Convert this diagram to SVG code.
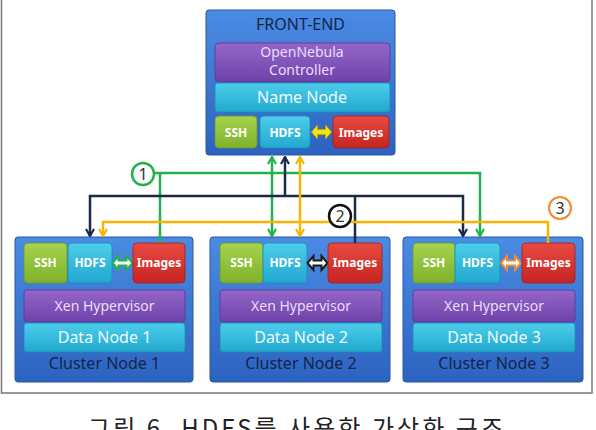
<svg xmlns="http://www.w3.org/2000/svg" width="596" height="430" viewBox="0 0 596 430">
<style>
.blue{fill:url(#gBlue);stroke:#2856a8;stroke-width:1}
.pur{fill:url(#gPur);stroke:#5e3596;stroke-width:0.8}
.cyan{fill:url(#gCyan);stroke:#1b8fb4;stroke-width:0.8}
.grn{fill:url(#gGrn);stroke:#6c9a22;stroke-width:0.8}
.red{fill:url(#gRed);stroke:#a81d1a;stroke-width:0.8}
text{font-family:"Noto Sans","Open Sans","DejaVu Sans",sans-serif;text-anchor:middle}
.dark{fill:#14254a;font-size:16px}
.lav{fill:#eadcfa;font-size:14px}
.wt{fill:#effbff;font-size:16px}
.b{fill:#ffffff;font-size:12px;font-weight:bold}
.ln{fill:none;stroke-width:2.5}
.g{stroke:#22b24c}
.n{stroke:#1b2a48}
.y{stroke:#f7b500}
.num{font-size:16px;fill:#333}
</style>
<defs>
<linearGradient id="gBlue" x1="0" y1="0" x2="0" y2="1"><stop offset="0" stop-color="#4b8be4"/><stop offset="1" stop-color="#2d63c0"/></linearGradient>
<linearGradient id="gPur" x1="0" y1="0" x2="0" y2="1"><stop offset="0" stop-color="#9466c8"/><stop offset="1" stop-color="#6e42aa"/></linearGradient>
<linearGradient id="gCyan" x1="0" y1="0" x2="0" y2="1"><stop offset="0" stop-color="#4ccdea"/><stop offset="1" stop-color="#22a8cf"/></linearGradient>
<linearGradient id="gGrn" x1="0" y1="0" x2="0" y2="1"><stop offset="0" stop-color="#a6d24c"/><stop offset="1" stop-color="#7fb22e"/></linearGradient>
<linearGradient id="gRed" x1="0" y1="0" x2="0" y2="1"><stop offset="0" stop-color="#e84940"/><stop offset="1" stop-color="#c62622"/></linearGradient>
<marker id="mG" viewBox="0 0 10 10" refX="9" refY="5" markerWidth="10" markerHeight="10" markerUnits="userSpaceOnUse" orient="auto-start-reverse"><path d="M2,1 L9,5 L2,9" fill="none" stroke="#22b24c" stroke-width="2.2"/></marker>
<marker id="mN" viewBox="0 0 10 10" refX="9" refY="5" markerWidth="10" markerHeight="10" markerUnits="userSpaceOnUse" orient="auto-start-reverse"><path d="M2,1 L9,5 L2,9" fill="none" stroke="#1b2a48" stroke-width="2.2"/></marker>
<marker id="mY" viewBox="0 0 10 10" refX="9" refY="5" markerWidth="10" markerHeight="10" markerUnits="userSpaceOnUse" orient="auto-start-reverse"><path d="M2,1 L9,5 L2,9" fill="none" stroke="#f7b500" stroke-width="2.2"/></marker>
<path id="dbl" d="M-10,0 L-4,-7 L-4,-2.5 L4,-2.5 L4,-7 L10,0 L4,7 L4,2.5 L-4,2.5 L-4,7 Z"/>
</defs>

<path d="M1.5,0 V393 H592 V0" fill="none" stroke="#777" stroke-width="1.5"/>

<g id="front-end" transform="translate(206,10)">
<rect class="blue" x="0" y="0" width="189" height="145" rx="3"/>
<text class="dark" x="94.5" y="20" font-size="15">FRONT-END</text>
<rect class="pur" x="9" y="33" width="175" height="39" rx="4"/>
<text class="lav" x="96" y="47" font-size="12">OpenNebula<tspan x="96" dy="18">Controller</tspan></text>
<rect class="cyan" x="9" y="73" width="175" height="29" rx="3"/>
<text class="wt" x="96" y="93">Name Node</text>
<rect class="grn" x="9" y="106" width="42" height="32" rx="4"/>
<text class="b" x="30" y="127">SSH</text>
<rect class="cyan" x="54" y="106" width="50" height="32" rx="4"/>
<text class="b" x="79" y="127">HDFS</text>
<use href="#dbl" transform="translate(115.5,122)" fill="#f4e40a" stroke="#c9a400" stroke-width="1"/>
<rect class="red" x="127" y="106" width="56" height="32" rx="4"/>
<text class="b" x="155" y="127">Images</text>
</g>

<g id="cluster-node-1" transform="translate(15,237)">
<rect class="blue" x="0" y="0" width="178" height="145" rx="3"/>
<rect class="grn" x="9" y="6" width="43" height="40" rx="4"/>
<text class="b" x="30.5" y="30">SSH</text>
<rect class="cyan" x="53" y="6" width="44" height="40" rx="4"/>
<text class="b" x="75" y="30">HDFS</text>
<use href="#dbl" transform="translate(107.5,26)" fill="#ffffff" stroke="#22b24c" stroke-width="2"/>
<rect class="red" x="118" y="6" width="52" height="40" rx="4"/>
<text class="b" x="144" y="30">Images</text>
<rect class="pur" x="9" y="53" width="161" height="32" rx="3"/>
<text class="lav" x="89.5" y="74">Xen Hypervisor</text>
<rect class="cyan" x="9" y="86" width="161" height="29" rx="3"/>
<text class="wt" x="89.5" y="106">Data Node 1</text>
<text class="dark" x="89.5" y="132">Cluster Node 1</text>
</g>

<g id="cluster-node-2" transform="translate(210,237)">
<rect class="blue" x="0" y="0" width="180" height="145" rx="3"/>
<rect class="grn" x="10" y="6" width="43" height="40" rx="4"/>
<text class="b" x="31.5" y="30">SSH</text>
<rect class="cyan" x="53" y="6" width="44" height="40" rx="4"/>
<text class="b" x="75" y="30">HDFS</text>
<use href="#dbl" transform="translate(107.5,26)" fill="#ffffff" stroke="#1a1a1a" stroke-width="2"/>
<rect class="red" x="118" y="6" width="54" height="40" rx="4"/>
<text class="b" x="145" y="30">Images</text>
<rect class="pur" x="10" y="53" width="162" height="32" rx="3"/>
<text class="lav" x="91" y="74">Xen Hypervisor</text>
<rect class="cyan" x="10" y="86" width="162" height="29" rx="3"/>
<text class="wt" x="91" y="106">Data Node 2</text>
<text class="dark" x="91" y="132">Cluster Node 2</text>
</g>

<g id="cluster-node-3" transform="translate(403,237)">
<rect class="blue" x="0" y="0" width="180" height="145" rx="3"/>
<rect class="grn" x="10" y="6" width="42" height="40" rx="4"/>
<text class="b" x="31" y="30">SSH</text>
<rect class="cyan" x="52" y="6" width="45" height="40" rx="4"/>
<text class="b" x="74.5" y="30">HDFS</text>
<use href="#dbl" transform="translate(108,26)" fill="#ffffff" stroke="#f08a30" stroke-width="2"/>
<rect class="red" x="119" y="6" width="53" height="40" rx="4"/>
<text class="b" x="145.5" y="30">Images</text>
<rect class="pur" x="10" y="53" width="162" height="32" rx="3"/>
<text class="lav" x="91" y="74">Xen Hypervisor</text>
<rect class="cyan" x="10" y="86" width="162" height="29" rx="3"/>
<text class="wt" x="91" y="106">Data Node 3</text>
<text class="dark" x="91" y="132">Cluster Node 3</text>
</g>

<g id="connectors">
<path class="ln g" d="M154,173 H480 V236" marker-end="url(#mG)"/>
<path class="ln g" d="M160,173 V243"/>
<path class="ln g" d="M272,157 V236" marker-start="url(#mG)" marker-end="url(#mG)"/>
<path class="ln n" d="M285,157 V196" marker-start="url(#mN)"/>
<path class="ln n" d="M90,236 V196 H463 V236" marker-start="url(#mN)" marker-end="url(#mN)"/>
<path class="ln n" d="M355,196 V243"/>
<path class="ln y" d="M300,157 V236" marker-start="url(#mY)" marker-end="url(#mY)"/>
<path class="ln y" d="M103,236 V222 H548 V243" marker-start="url(#mY)"/>
</g>

<g id="labels">
<circle cx="143" cy="174" r="11" fill="#fff" stroke="#22b24c" stroke-width="2.5"/>
<text class="num" x="143" y="180">1</text>
<circle cx="340" cy="216" r="11" fill="#fff" stroke="#111" stroke-width="2.5"/>
<text class="num" x="340" y="222">2</text>
<circle cx="560" cy="208" r="11" fill="#fff" stroke="#f08a30" stroke-width="2"/>
<text class="num" x="560" y="214">3</text>
</g>

<text x="88" y="437" font-size="24" textLength="415" lengthAdjust="spacing" style="text-anchor:start;font-family:'Noto Sans CJK KR','Noto Sans',sans-serif;fill:#222">그림 6. HDFS를 사용한 가상화 구조</text>
</svg>
